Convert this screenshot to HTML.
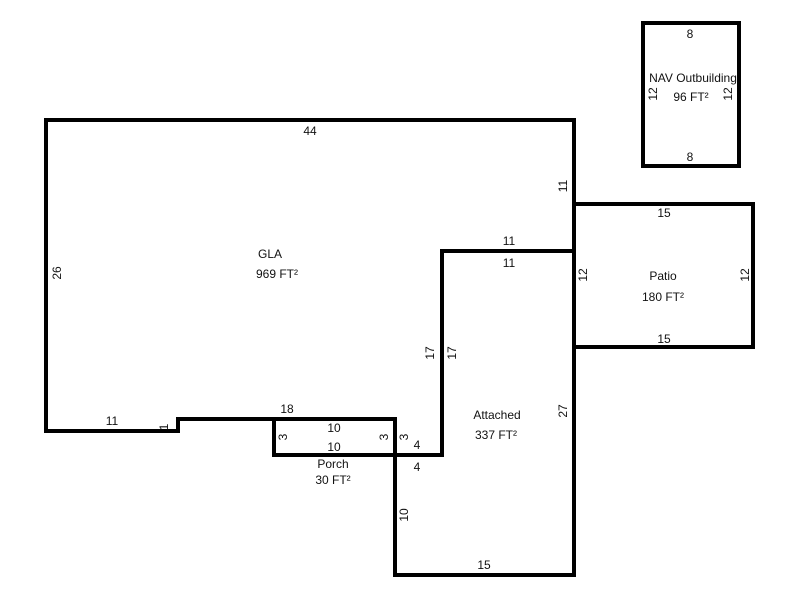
<!DOCTYPE html>
<html><head><style>
body{margin:0;background:#fff;}
svg text{font-family:"Liberation Sans",Arial,sans-serif;font-size:12px;fill:#111;}
</style></head><body>
<svg width="800" height="600" viewBox="0 0 800 600" xmlns="http://www.w3.org/2000/svg">
<g fill="none" stroke="#000" stroke-width="4" stroke-linejoin="miter">
<polyline points="574,251 574,120 46,120 46,431 178,431 178,419 395,419"/>
<polygon points="442,251 574,251 574,575 395,575 395,455 442,455"/>
<rect x="274" y="419" width="121" height="36"/>
<polyline points="574,204 753,204 753,347 574,347"/>
<rect x="643" y="23" width="96" height="143"/>
</g>
<g text-anchor="middle">
<text x="310" y="135">44</text>
<text x="270" y="258">GLA</text>
<text x="277" y="278">969 FT²</text>
<text x="112" y="425">11</text>
<text x="287" y="413">18</text>
<text x="334" y="432">10</text>
<text x="334" y="451">10</text>
<text x="333" y="468">Porch</text>
<text x="333" y="484">30 FT²</text>
<text x="417" y="449">4</text>
<text x="417" y="471">4</text>
<text x="509" y="245">11</text>
<text x="509" y="267">11</text>
<text x="497" y="419">Attached</text>
<text x="496" y="439">337 FT²</text>
<text x="484" y="569">15</text>
<text x="664" y="217">15</text>
<text x="663" y="280">Patio</text>
<text x="663" y="301">180 FT²</text>
<text x="664" y="343">15</text>
<text x="690" y="38">8</text>
<text x="693" y="82">NAV Outbuilding</text>
<text x="691" y="101">96 FT²</text>
<text x="690" y="161">8</text>
<text transform="translate(61,273) rotate(-90)">26</text>
<text transform="translate(168,427) rotate(-90)">1</text>
<text transform="translate(287,437) rotate(-90)">3</text>
<text transform="translate(388,437) rotate(-90)">3</text>
<text transform="translate(408,437) rotate(-90)">3</text>
<text transform="translate(434,353) rotate(-90)">17</text>
<text transform="translate(456,353) rotate(-90)">17</text>
<text transform="translate(567,186) rotate(-90)">11</text>
<text transform="translate(587,275) rotate(-90)">12</text>
<text transform="translate(567,411) rotate(-90)">27</text>
<text transform="translate(408,515) rotate(-90)">10</text>
<text transform="translate(749,275) rotate(-90)">12</text>
<text transform="translate(657,94) rotate(-90)">12</text>
<text transform="translate(732,94) rotate(-90)">12</text>
</g>
</svg>
</body></html>
